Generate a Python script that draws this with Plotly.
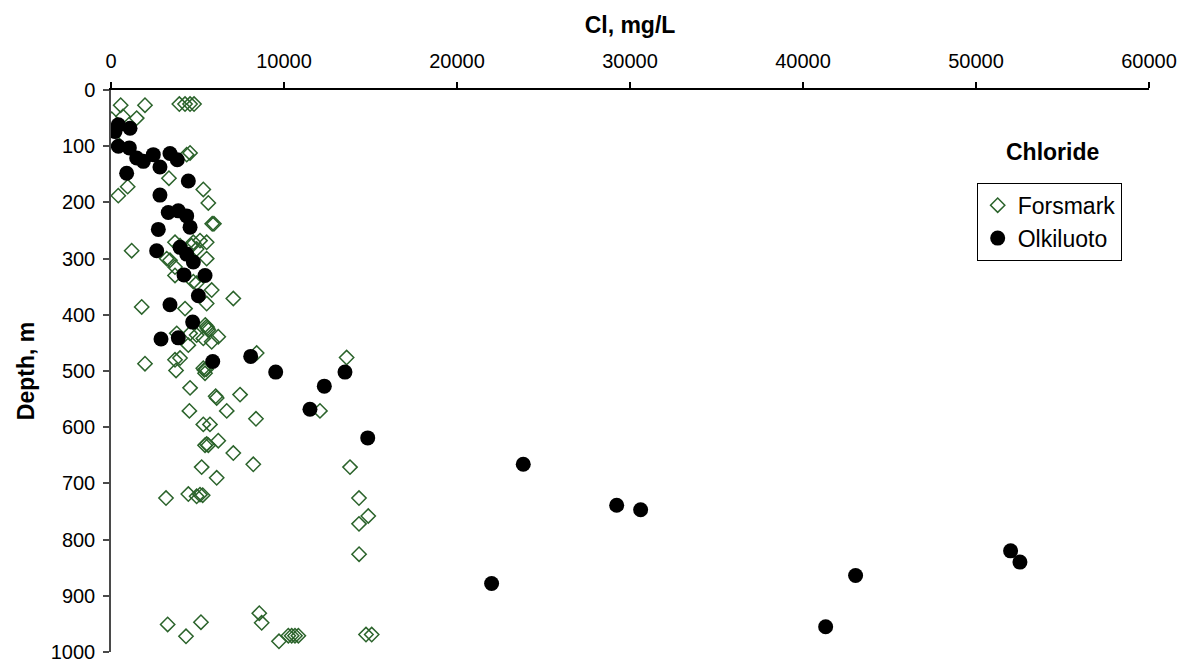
import plotly.graph_objects as go

# Chloride concentration (mg/L) versus sampling depth (m)
forsmark_cl = [
    560, 1965, 3950, 4280, 4570, 4800,
    40, 690, 1485, 135, 4375, 4570, 3350, 965, 420, 5335, 5625, 5850, 5950,
    1195, 3220, 3410, 3700, 3990, 4760, 5145, 5530, 4660, 4950, 5530,
    3700, 3700, 4760, 4950, 5820, 7070, 5530, 1775, 4280,
    5530, 5625, 5450, 5580, 3800, 4570, 4950, 5335, 5820, 6200, 4470,
    1965, 3700, 3990, 3760, 5335, 5435, 5400, 5500, 4570, 6110, 6050,
    6690, 7460, 4530, 5335, 5720, 5435, 5625, 5530, 6200, 7070, 8225,
    5240, 6110, 3180, 4470, 4950, 5145, 5300,
    8420, 13620, 12080, 8380, 13815, 14335, 14870, 14335, 14340,
    3275, 4335, 5200, 8570, 8710, 9710, 10250, 10445, 10635, 10830, 14740, 15070,
]
forsmark_depth = [
    27, 27, 25, 25, 25, 25,
    52, 47, 50, 88, 115, 112, 157, 172, 188, 177, 201, 238, 238,
    286, 300, 303, 271, 277, 271, 268, 271, 277, 283, 300,
    315, 330, 341, 344, 356, 371, 380, 386, 389,
    421, 427, 418, 424, 433, 433, 436, 442, 448, 439, 454,
    487, 480, 477, 499, 495, 504, 498, 497, 530, 548, 545,
    571, 542, 571, 595, 595, 632, 632, 630, 624, 646, 666,
    671, 690, 726, 719, 723, 720, 721,
    468, 476, 571, 585, 671, 726, 758, 772, 826,
    951, 972, 947, 931, 948, 981, 971, 971, 971, 971, 969, 969,
]

olkiluoto_cl = [
    425, 230, 1100, 425, 1060, 1485, 1870, 2445, 3410, 3830, 2830, 905,
    4470, 2830, 3310, 3890, 4375, 4570, 2735, 2640, 3990, 4375, 4760,
    4220, 5435, 5050, 3410, 4720, 2890, 3890, 5880, 8075, 9520, 12330,
    13525, 11500, 14840, 23830, 29230, 30615, 22000, 43040, 41310, 52000, 52540,
]
olkiluoto_depth = [
    62, 74, 68, 100, 103, 121, 127, 115, 113, 124, 137, 148,
    162, 187, 218, 215, 224, 244, 248, 286, 280, 292, 306,
    329, 330, 366, 382, 413, 443, 441, 483, 474, 502, 527,
    502, 568, 619, 666, 739, 747, 878, 864, 955, 820, 840,
]

FONT = "Liberation Sans, Arial, sans-serif"

fig = go.Figure()
fig.add_trace(go.Scatter(
    x=forsmark_cl, y=forsmark_depth, mode="markers", name="Forsmark",
    marker=dict(symbol="diamond-open", size=11, color="#2b632b",
                line=dict(width=1.5, color="#2b632b")),
))
fig.add_trace(go.Scatter(
    x=olkiluoto_cl, y=olkiluoto_depth, mode="markers", name="Olkiluoto",
    marker=dict(symbol="circle", size=15, color="black"),
))

axis_common = dict(
    showline=True, linewidth=1.5, mirror=False, automargin=False,
    ticks="outside", ticklen=6, tickwidth=1.5,
    showgrid=False, zeroline=False, ticklabeloverflow="allow",
    tickfont=dict(family=FONT, size=20, color="black"),
)

fig.update_layout(
    width=1185, height=664,
    margin=dict(l=111, r=36, t=90, b=12),
    paper_bgcolor="white", plot_bgcolor="white",
    font=dict(family=FONT, color="black"),
    xaxis=dict(
        axis_common, side="top", range=[0, 60000], dtick=10000, tickformat="d",
        linecolor="black", tickcolor="black", ticklabelstandoff=6,
        title=dict(text="<b>Cl, mg/L</b>", font=dict(size=23, family=FONT), standoff=10),
    ),
    yaxis=dict(
        axis_common, range=[1000, 0], dtick=100, ticklabelstandoff=4,
        linecolor="#4a4a4a", tickcolor="#4a4a4a",
        title=dict(text="<b>Depth, m</b>", font=dict(size=23, family=FONT), standoff=10),
    ),
    legend=dict(
        x=0.834, y=0.835, xanchor="left", yanchor="top",
        bordercolor="black", borderwidth=1, bgcolor="white",
        font=dict(family=FONT, size=23, color="black"),
    ),
    showlegend=True,
    annotations=[dict(
        text="<b>Chloride</b>", xref="paper", yref="paper",
        x=0.9075, y=0.889, xanchor="center", yanchor="middle",
        showarrow=False, font=dict(family=FONT, size=23, color="black"),
    )],
)

fig.write_html("out.html")
